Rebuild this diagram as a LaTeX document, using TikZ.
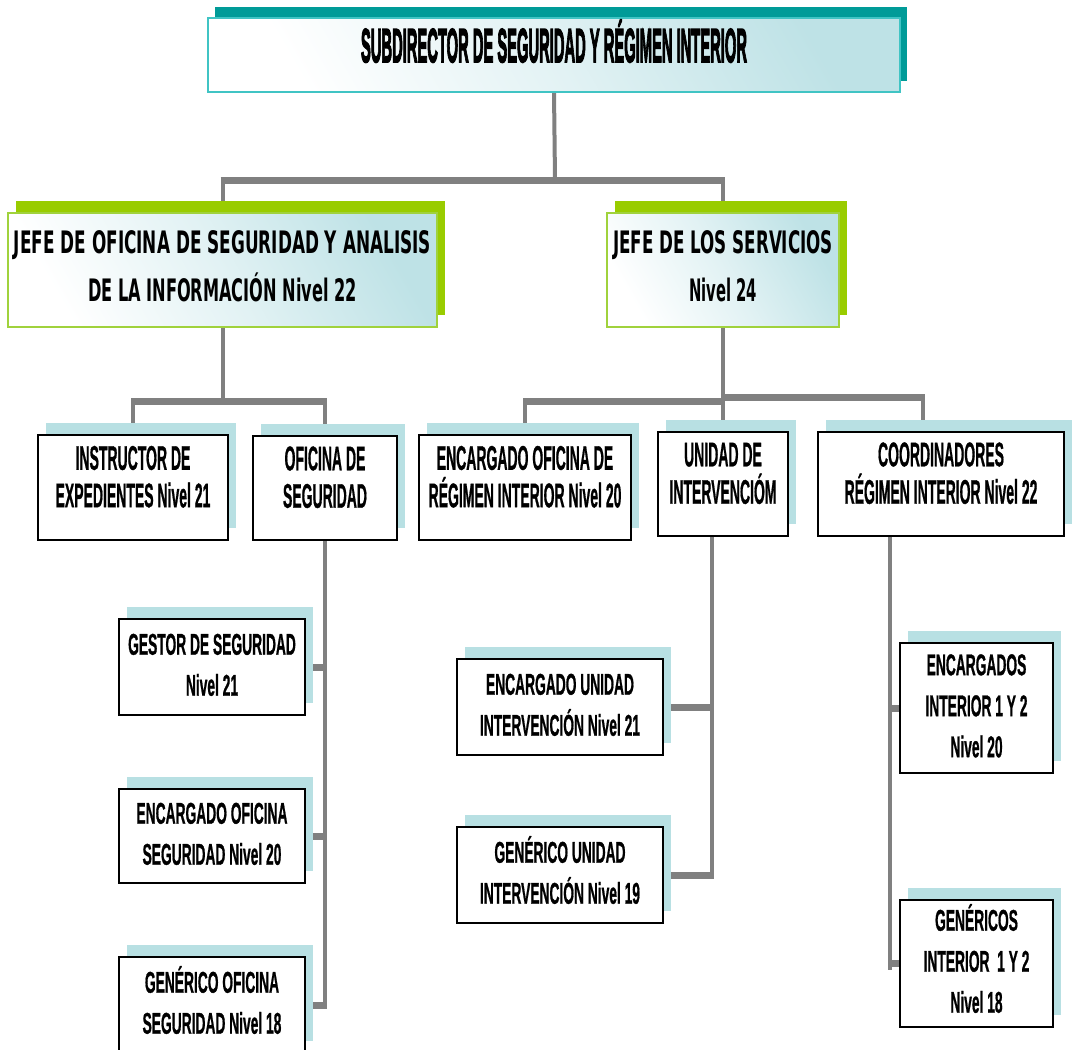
\documentclass[tikz,border=0pt]{standalone}
\usepackage{fontspec}
\usepackage{graphicx}
\setmainfont{Liberation Sans}[BoldFeatures={FakeBold=1.2}]
\newfontfamily\jefefont{DejaVu Sans}
\newfontface\titlefont{Liberation Sans Bold}[FakeBold=4]
\usetikzlibrary{shadows}
\pgfdeclarelayer{background}
\pgfsetlayers{background,main}

\definecolor{tealsh}{RGB}{0,155,152}
\definecolor{tealbd}{RGB}{64,196,196}
\definecolor{gradblue}{RGB}{190,226,230}
\definecolor{greensh}{RGB}{153,204,0}
\definecolor{greenbd}{RGB}{160,210,60}
\definecolor{shblue}{RGB}{184,224,227}
\definecolor{linegray}{RGB}{128,128,128}

% one text line whose height does not disturb the row struts
\newcommand\rw[1]{\smash{#1}}
% a line stretched to a given width (in pixels of the drawing grid)
\newcommand\wpx[2]{\resizebox{\dimexpr #1pt*3/4\relax}{\height}{#2}}
\newcommand\stack[1]{\begin{tabular}{@{}c@{}}#1\end{tabular}}
\newcommand\narrowA[1]{\scalebox{0.41}[1]{\stack{#1}}}
\newcommand\narrowB[1]{\scalebox{0.46}[1]{\stack{#1}}}

% box node from its corners: style, name, x1, y1, x2, y2, text
\newcommand\orgnode[7]{%
  \pgfmathsetmacro\nw{(#5-#3)*0.75}%
  \pgfmathsetmacro\nh{(#6-#4)*0.75}%
  \node[#1, minimum width=\nw pt, minimum height=\nh pt] (#2)
    at ({(#3+#5)/2},{(#4+#6)/2}) {#7};}

\tikzset{
  every node/.style={inner sep=0pt, outer sep=0pt},
  headbox/.style={draw=tealbd, line width=1.5pt,
    top color=gradblue, bottom color=white, middle color=white!55!gradblue,
    shading angle=-60,
    general shadow={fill=tealsh, shadow xshift=5.25pt, shadow yshift=8.25pt},
    font={\fontsize{35.6pt}{45pt}\selectfont\titlefont}},
  jefebox/.style={draw=greenbd, line width=1.5pt,
    top color=gradblue, bottom color=white, middle color=white!55!gradblue,
    shading angle=-60,
    general shadow={fill=greensh, shadow xshift=6pt, shadow yshift=9pt},
    font={\fontsize{23.2pt}{36pt}\selectfont\jefefont\bfseries}},
  rowbox/.style={draw=black, line width=1.65pt, fill=white,
    general shadow={fill=shblue, shadow xshift=6pt, shadow yshift=9pt},
    font={\fontsize{25.6pt}{28.1pt}\selectfont\bfseries}},
  subbox/.style={draw=black, line width=1.65pt, fill=white,
    general shadow={fill=shblue, shadow xshift=6pt, shadow yshift=9pt},
    font={\fontsize{22.5pt}{30.75pt}\selectfont\bfseries}},
  vbar/.style={draw=linegray, line width=3pt},
  hbar/.style={draw=linegray, line width=5.25pt,
    shorten <=-1.5pt, shorten >=-1.5pt},
}

\begin{document}
\begin{tikzpicture}[x=0.75pt, y=-0.75pt]
\useasboundingbox (0,0) rectangle (1077,1049);

% head
\orgnode{headbox}{top}{208}{18}{900}{92}{\stack{\rw{\wpx{386}{SUBDIRECTOR DE SEGURIDAD Y RÉGIMEN INTERIOR}}\\[7.5pt]}}

% second level
\orgnode{jefebox}{jefeL}{8}{213}{437}{327}{\stack{\rw{\wpx{417}{JEFE DE OFICINA DE SEGURIDAD Y ANALISIS}}\\
  \rw{\wpx{269}{DE LA INFORMACIÓN Nivel 22}}\\[3.75pt]}}
\orgnode{jefebox}{jefeR}{607}{213}{839}{327}{\stack{\rw{\wpx{220}{JEFE DE LOS SERVICIOS}}\\
  \rw{\wpx{68}{Nivel 24}}\\[3.75pt]}}

% third level
\orgnode{rowbox}{instr}{38}{435}{228}{540}{\narrowA{\rw{INSTRUCTOR DE}\\\rw{EXPEDIENTES Nivel 21}\\[9.75pt]}}
\orgnode{rowbox}{ofic}{253}{436}{397}{540}{\narrowA{\rw{OFICINA DE}\\\rw{SEGURIDAD}\\[9.75pt]}}
\orgnode{rowbox}{encOf}{419}{435}{631}{540}{\narrowA{\rw{ENCARGADO OFICINA DE}\\\rw{RÉGIMEN INTERIOR Nivel 20}\\[9.75pt]}}
\orgnode{rowbox}{unidad}{658}{432}{788}{536}{\narrowA{\rw{UNIDAD DE}\\\rw{INTERVENCIÓM}\\[9.75pt]}}
\orgnode{rowbox}{coord}{818}{432}{1064}{536}{\narrowA{\rw{COORDINADORES}\\\rw{RÉGIMEN INTERIOR Nivel 22}\\[9.75pt]}}

% fourth level
\orgnode{subbox}{gestor}{119}{619}{305}{715}{\narrowB{\rw{GESTOR DE SEGURIDAD}\\\rw{Nivel 21}}}
\orgnode{subbox}{encSeg}{119}{789}{305}{883}{\narrowB{\rw{ENCARGADO OFICINA}\\\rw{SEGURIDAD Nivel 20}}}
\orgnode{subbox}{genSeg}{119}{957}{305}{1053}{\narrowB{\rw{GENÉRICO OFICINA}\\\rw{SEGURIDAD Nivel 18}}}
\orgnode{subbox}{encUn}{457}{659}{663}{755}{\narrowB{\rw{ENCARGADO UNIDAD}\\\rw{INTERVENCIÓN Nivel 21}}}
\orgnode{subbox}{genUn}{457}{827}{663}{923}{\narrowB{\rw{GENÉRICO UNIDAD}\\\rw{INTERVENCIÓN Nivel 19}}}
\orgnode{subbox}{encInt}{900}{643}{1053}{773}{\narrowB{\rw{ENCARGADOS}\\\rw{INTERIOR 1 Y 2}\\\rw{Nivel 20}}}
\orgnode{subbox}{genInt}{900}{900}{1053}{1027}{\narrowB{\rw{GENÉRICOS}\\\rw{INTERIOR\ \ 1 Y 2}\\\rw{Nivel 18}}}

\begin{pgfonlayer}{background}
  \fill[white] (0,0) rectangle (1077,1049);
  \coordinate (barA) at (555,180);
  \coordinate (barB) at (222.5,401);
  \coordinate (barC) at (723,401);
  \coordinate (barD) at (723,397);
  \coordinate (stubR) at (923,397);
  \coordinate (colL) at (325,1008);
  \coordinate (colM) at (712,878.5);
  \coordinate (colR) at (890,967);

  % head to second level
  \draw[vbar] (top.south) -- (barA);
  \draw[hbar] (jefeL.north |- barA) -- (jefeR.north |- barA);
  \draw[vbar] (jefeL.north |- barA) -- (jefeL.north);
  \draw[vbar] (jefeR.north |- barA) -- (jefeR.north);

  % left branch
  \draw[vbar] (jefeL.south) -- (barB);
  \draw[hbar] (instr.north |- barB) -- (ofic.north |- barB);
  \draw[vbar] (instr.north |- barB) -- (instr.north);
  \draw[vbar] (ofic.north |- barB) -- (ofic.north);

  % right branch
  \draw[vbar] (jefeR.south) -- (barD);
  \draw[hbar] (encOf.north |- barC) -- (barC);
  \draw[hbar] (barD) -- (stubR);
  \draw[vbar] (encOf.north |- barC) -- (encOf.north);
  \draw[vbar] (barD) -- (unidad.north);
  \draw[vbar] (stubR) -- (coord.north -| stubR);

  % security office column
  \draw[vbar] (ofic.south) -- (colL);
  \draw[hbar] (gestor.east) -- (gestor.east -| colL);
  \draw[hbar] (encSeg.east) -- (encSeg.east -| colL);
  \draw[hbar] (genSeg.east) -- (genSeg.east -| colL);

  % intervention unit column
  \draw[vbar] (unidad.south -| colM) -- (colM);
  \draw[hbar] (encUn.east) -- (encUn.east -| colM);
  \draw[hbar] (genUn.east) -- (genUn.east -| colM);

  % coordinators column
  \draw[vbar] (coord.south -| colR) -- ([yshift=-2.6pt]colR);
  \draw[hbar] (encInt.west) -- (encInt.west -| colR);
  \draw[hbar] (genInt.west -| colR) -- (genInt.west);
\end{pgfonlayer}
\end{tikzpicture}
\end{document}
